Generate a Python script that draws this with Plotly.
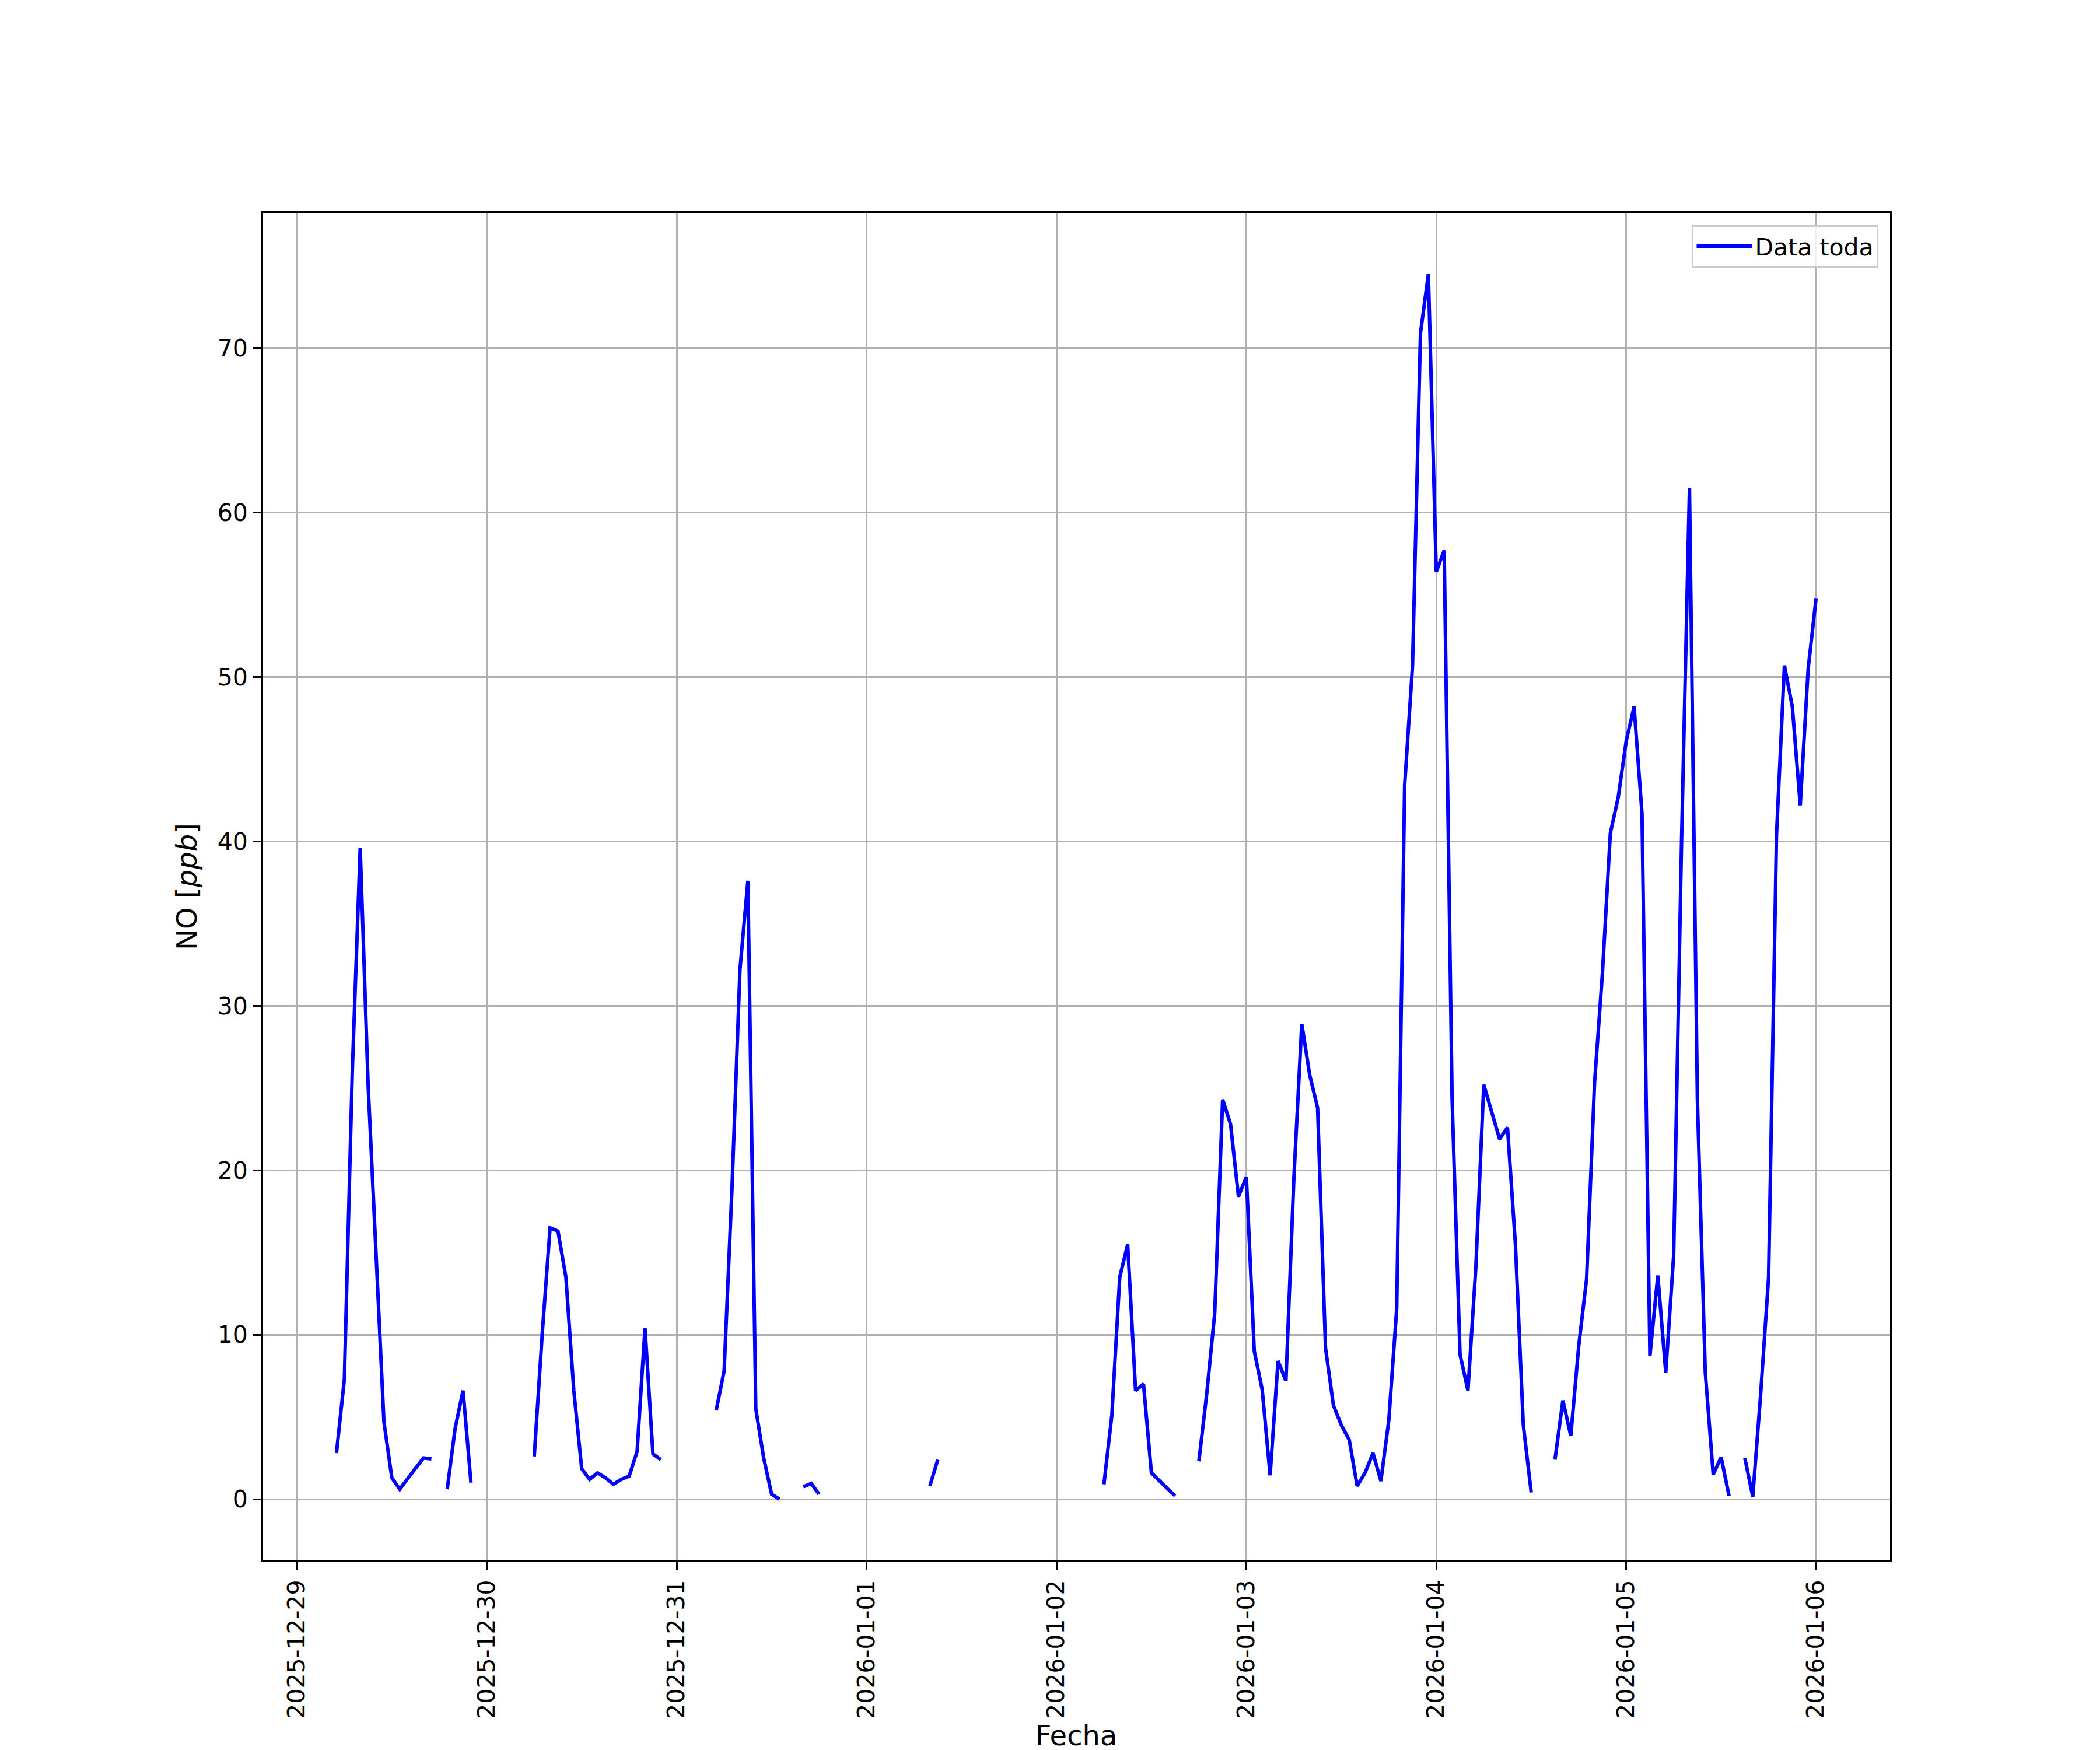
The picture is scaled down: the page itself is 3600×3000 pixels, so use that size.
import pandas as pd
import plotly.graph_objects as go

# Hourly NO concentration [ppb], starting 2025-12-29 05:00; None = missing hour
start_time = "2025-12-29 05:00"
no_ppb = [
    2.8, 7.3, 26.0, 39.6, 25.2, 14.8, 4.7, 1.3, 0.6, 1.25, 1.9, 2.5, 2.45,   # 05-17
    None,                                                                    # 18
    0.6, 4.3, 6.6, 1.0,                                                      # 19-22
    None, None, None, None, None, None, None,                                # 23-29
    2.6, 10.0, 16.5, 16.3, 13.5, 6.6, 1.85, 1.2, 1.6, 1.3, 0.9, 1.2, 1.4,    # 30-42
    2.9, 10.4, 2.75, 2.4,                                                    # 43-46
    None, None, None, None, None, None,                                      # 47-52
    5.4, 7.8, 19.0, 32.2, 37.6, 5.5, 2.5, 0.3, 0.0,                          # 53-61
    None, None,                                                              # 62-63
    0.75, 0.95, 0.3,                                                         # 64-66
    None, None, None, None, None, None, None, None, None, None, None, None, None,  # 67-79
    0.8, 2.4,                                                                # 80-81
    None, None, None, None, None, None, None, None, None, None,              # 82-91
    None, None, None, None, None, None, None, None, None, None,              # 92-101
    0.9, 5.1, 13.5, 15.5, 6.6, 7.0, 1.6, 1.1, 0.65, 0.2,                     # 102-111
    None, None,                                                              # 112-113
    2.3, 6.45, 11.3, 24.3, 22.8, 18.4, 19.6, 9.0, 6.65, 1.45, 8.4, 7.2,      # 114-125
    19.5, 28.9, 25.8, 23.8, 9.2, 5.7, 4.5, 3.6, 0.8, 1.6, 2.8, 1.1,          # 126-137
    4.8, 11.6, 43.4, 50.7, 70.9, 74.5, 56.4, 57.7, 24.3, 8.8, 6.6, 14.1,     # 138-149
    25.2, 23.5, 21.9, 22.6, 15.5, 4.5, 0.4,                                  # 150-156
    None, None,                                                              # 157-158
    2.4, 6.0, 3.85, 9.3, 13.4, 25.3, 32.0, 40.5, 42.7, 46.1, 48.2, 41.7,     # 159-170
    8.7, 13.6, 7.7, 14.8, 40.0, 61.5, 24.3, 7.7, 1.5, 2.55, 0.2,             # 171-181
    None,                                                                    # 182
    2.5, 0.15, 6.4, 13.5, 40.4, 50.7, 48.2, 42.2, 50.5, 54.8,                # 183-192
]
times = pd.date_range(start_time, periods=len(no_ppb), freq="h")

series_name = "Data toda"
x_title = "Fecha"
y_title = "NO [<i>ppb</i>]"
y_ticks = [0, 10, 20, 30, 40, 50, 60, 70]
day_ticks = pd.date_range("2025-12-29", "2026-01-06", freq="D")

# matplotlib-like 5% margins
span = times[-1] - times[0]
x_range = [times[0] - 0.05 * span, times[-1] + 0.05 * span]
valid = [v for v in no_ppb if v is not None]
ymin, ymax = min(valid), max(valid)
yspan = ymax - ymin
y_range = [ymin - 0.05 * yspan, ymax + 0.05 * yspan]

FONT = "DejaVu Sans"

fig = go.Figure()
fig.add_trace(go.Scatter(
    x=times, y=no_ppb, mode="lines", name=series_name,
    line=dict(color="#0000ff", width=6),
    connectgaps=False,
))

axis_common = dict(
    showline=True, linecolor="black", linewidth=3, mirror=True,
    ticks="outside", ticklen=14, tickwidth=3, tickcolor="black",
    showgrid=True, gridcolor="#b0b0b0", gridwidth=2.5,
    zeroline=False, automargin=False,
    tickfont=dict(family=FONT, size=41, color="black"),
)

# page body has a small default margin; shift the figure box to compensate
fig.update_layout(
    width=3600, height=3000,
    margin=dict(l=442, r=368, t=357, b=333),
    paper_bgcolor="white", plot_bgcolor="white",
    font=dict(family=FONT, color="black"),
    xaxis=dict(
        **axis_common,
        type="date", range=x_range,
        tickvals=day_ticks, tickformat="%Y-%m-%d", tickangle=-90,
        title=dict(text=x_title, font=dict(family=FONT, size=48), standoff=8),
    ),
    yaxis=dict(
        **axis_common,
        range=y_range, tickvals=y_ticks,
        title=dict(text=y_title, font=dict(family=FONT, size=48), standoff=20),
    ),
    showlegend=True,
    legend=dict(
        x=0.993, y=0.991, xanchor="right", yanchor="top",
        bgcolor="rgba(255,255,255,0.8)", bordercolor="#cccccc", borderwidth=3,
        font=dict(family=FONT, size=41, color="black"),
        itemwidth=95,
    ),
)

fig.write_html("out.html")
